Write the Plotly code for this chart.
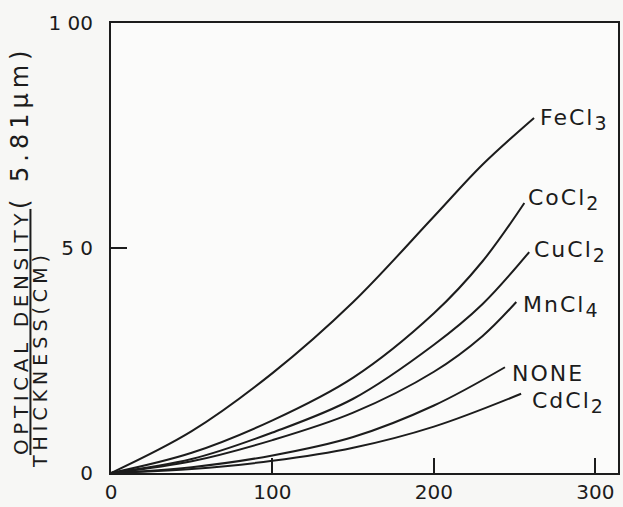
import plotly.graph_objects as go

# ---- data ----
fecl3_x = [0, 50, 100, 150, 200, 230, 262]
fecl3_y = [0, 9.3, 22.2, 38.0, 57.0, 68.5, 78.9]

cocl2_x = [0, 50, 100, 150, 200, 230, 256]
cocl2_y = [0, 4.5, 11.7, 21.2, 35.5, 47.0, 60.0]

cucl2_x = [0, 50, 100, 150, 200, 230, 259]
cucl2_y = [0, 3.1, 9.0, 16.5, 28.5, 37.5, 49.1]

mncl4_x = [0, 50, 100, 150, 200, 230, 251]
mncl4_y = [0, 2.6, 7.3, 13.4, 22.5, 30.4, 38.0]

none_x = [0, 50, 100, 150, 200, 244]
none_y = [0, 1.3, 3.9, 8.0, 15.0, 23.5]

cdcl2_x = [0, 50, 100, 150, 200, 254]
cdcl2_y = [0, 0.9, 2.7, 5.6, 10.3, 17.6]

SUB = '<sub><span style="font-size:19px">{}</span></sub>'
series_names = ["FeCl" + SUB.format("3"), "CoCl" + SUB.format("2"),
                "CuCl" + SUB.format("2"), "MnCl" + SUB.format("4"),
                "NONE", "CdCl" + SUB.format("2")]

x_tick_vals = [0, 100, 200, 300]
x_tick_text = ["0", "100", "200", "300"]
y_tick_vals = [0, 50, 100]
y_tick_text = ["0", "5 0", "1 00"]

INK = "#1c1c1c"
FONT = "DejaVu Sans"

series = [
    (fecl3_x, fecl3_y),
    (cocl2_x, cocl2_y),
    (cucl2_x, cucl2_y),
    (mncl4_x, mncl4_y),
    (none_x, none_y),
    (cdcl2_x, cdcl2_y),
]
# label nudges (pixels) relative to each curve end: (x, y)
label_nudge = [(4, -2), (2, 4), (3, 1), (5, -4), (5, -6), (9, -9)]

fig = go.Figure()
for (xs, ys), name in zip(series, series_names):
    fig.add_trace(go.Scatter(
        x=xs, y=ys, mode="lines", name=name,
        line=dict(color=INK, width=2, shape="spline", smoothing=1.0),
        showlegend=False, hoverinfo="skip"))

# curve labels at the end of each curve
for (xs, ys), name, (dx, dy) in zip(series, series_names, label_nudge):
    fig.add_annotation(
        x=xs[-1], y=ys[-1], xref="x", yref="y",
        text='<span style="letter-spacing:2px">' + name + '</span>',
        showarrow=False, xanchor="left", yanchor="middle",
        xshift=dx, yshift=dy,
        font=dict(family=FONT, size=22, color=INK))

# y-axis title as a stacked fraction
fig.add_annotation(
    x=-0.179, y=0.496, xref="paper", yref="paper",
    text=('<span style="letter-spacing:4.6px"><u>OPTICAL DENSITY</u></span>'
          '<span style="letter-spacing:5px;font-size:24px">( 5.81μm)</span>'),
    textangle=-90, showarrow=False, xanchor="center", yanchor="middle",
    font=dict(family=FONT, size=20, color=INK))
fig.add_annotation(
    x=-0.141, y=0.252, xref="paper", yref="paper",
    text='<span style="letter-spacing:5px">THICKNESS(CM)</span>',
    textangle=-90, showarrow=False, xanchor="center", yanchor="middle",
    font=dict(family=FONT, size=19, color=INK))

fig.update_xaxes(
    range=[0, 314], tickvals=x_tick_vals, ticktext=x_tick_text,
    ticks="inside", ticklen=15, tickwidth=1.5, tickcolor=INK,
    showline=True, linecolor=INK, linewidth=2, mirror=True,
    showgrid=False, zeroline=False,
    tickfont=dict(family=FONT, size=20, color=INK))
fig.update_yaxes(
    range=[0, 100], tickvals=y_tick_vals, ticktext=y_tick_text,
    ticks="inside", ticklen=16, tickwidth=1.5, tickcolor=INK,
    showline=True, linecolor=INK, linewidth=2, mirror=True,
    showgrid=False, zeroline=False, ticklabelstandoff=12,
    tickfont=dict(family=FONT, size=20, color=INK))

fig.update_layout(
    width=623, height=507,
    margin=dict(l=111, r=3, t=23, b=24),
    paper_bgcolor="#f7f7f5", plot_bgcolor="#fbfbfa",
    font=dict(family=FONT, color=INK))

fig.write_html("out.html")
